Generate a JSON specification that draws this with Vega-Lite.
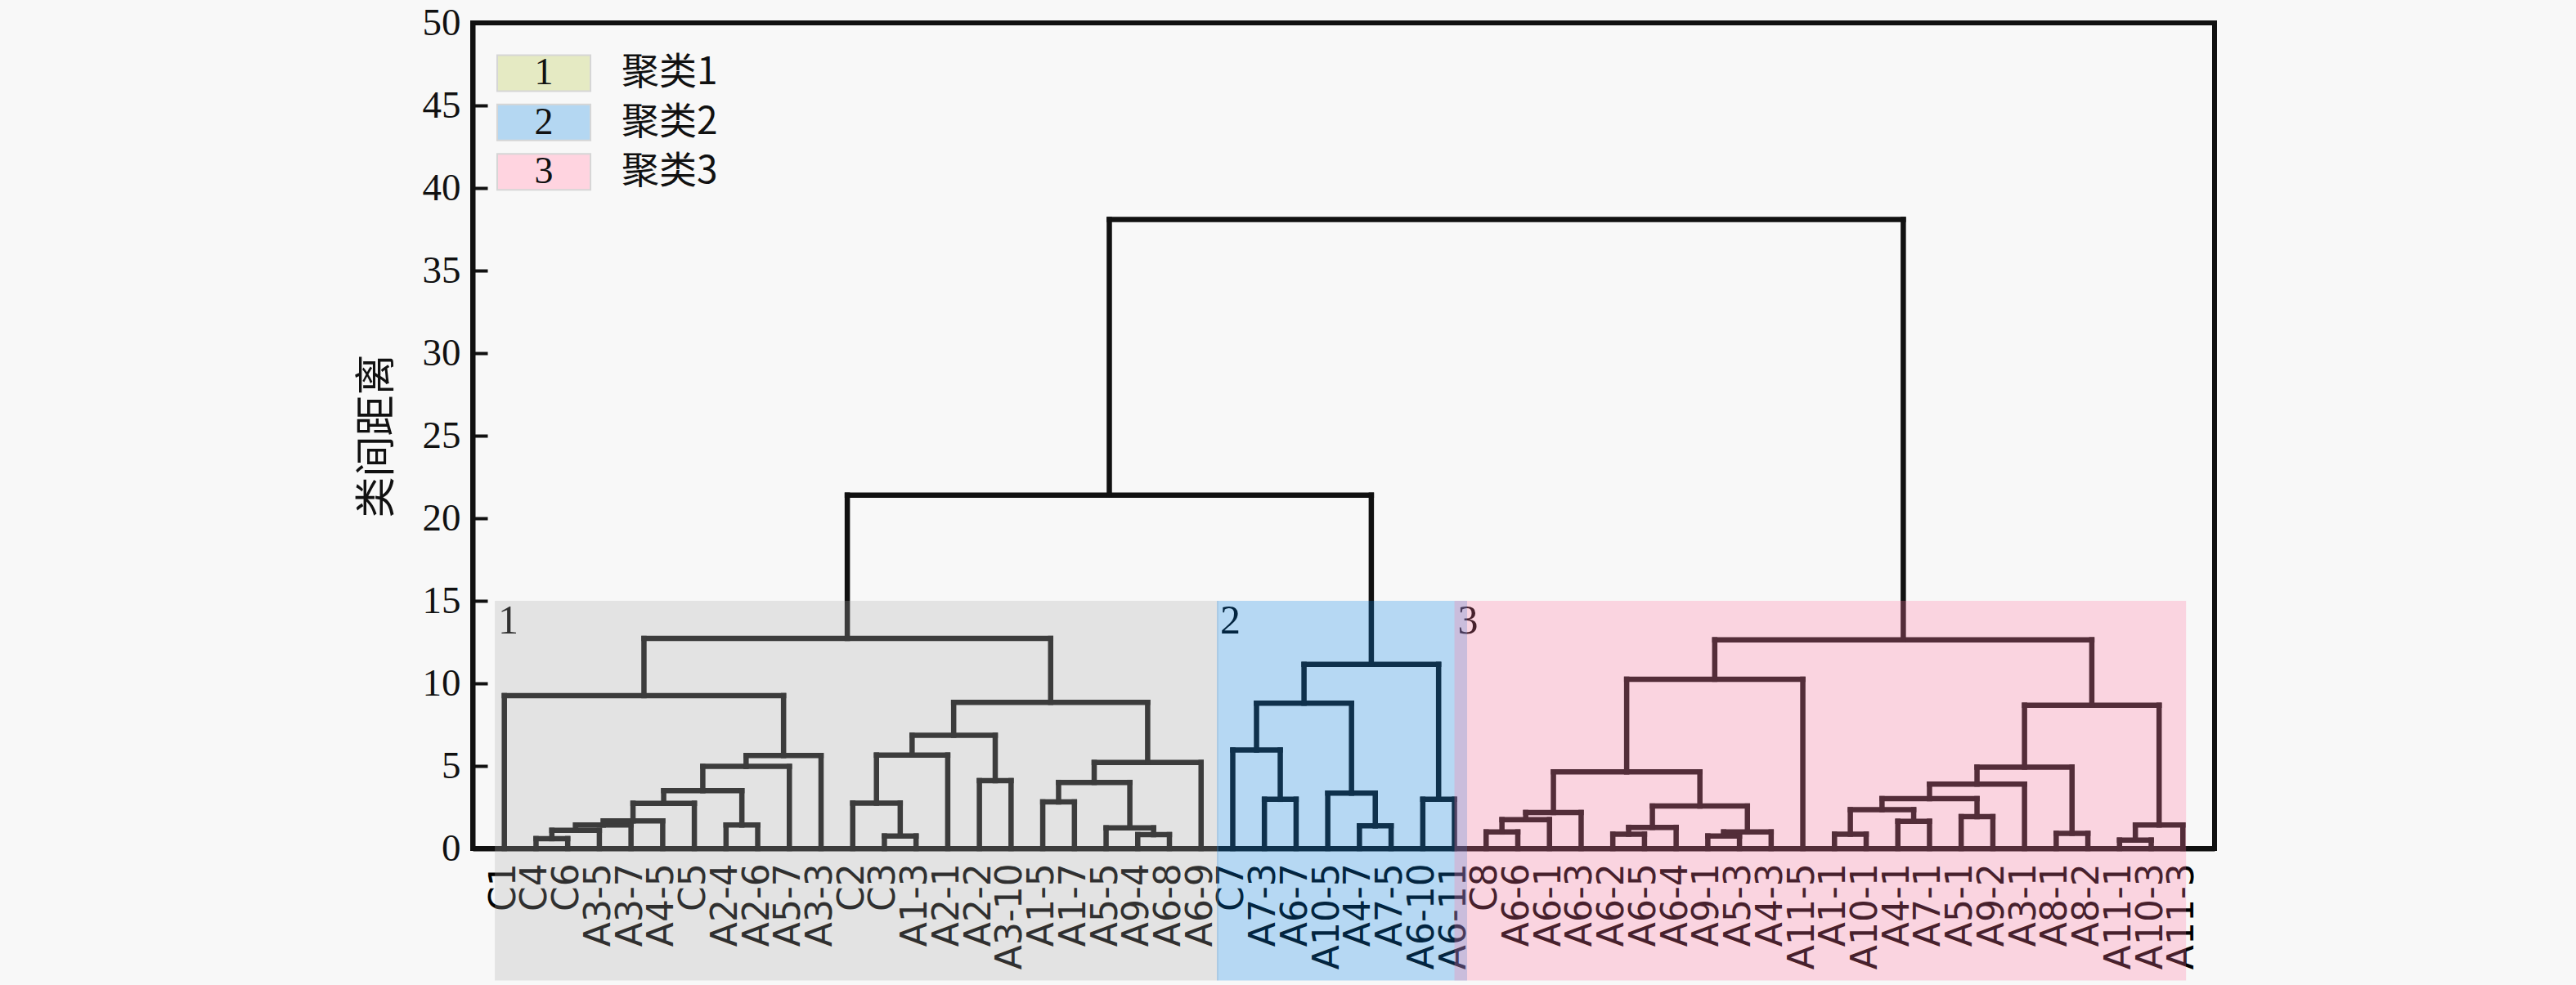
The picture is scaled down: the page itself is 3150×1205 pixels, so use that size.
{
  "$schema": "https://vega.github.io/schema/vega-lite/v6.json",
  "width": 2130,
  "height": 1010,
  "autosize": "none",
  "padding": {"left": 578, "top": 28, "right": 442, "bottom": 167},
  "background": "#f8f8f8",
  "config": {
    "view": {"stroke": "#111111", "strokeWidth": 6},
    "axis": {"grid": false, "domainColor": "#111111", "domainWidth": 6, "tickColor": "#111111", "labelColor": "#111111", "titleColor": "#111111"},
    "axisX": {"labels": false, "ticks": false}
  },
  "datasets": {
    "merges": [
      {"xl": 1, "hl": 0, "xr": 2, "hr": 0, "h": 0.6},
      {"xl": 1.5, "hl": 0.6, "xr": 3, "hr": 0, "h": 1.1},
      {"xl": 2.25, "hl": 1.1, "xr": 4, "hr": 0, "h": 1.42},
      {"xl": 3.125, "hl": 1.42, "xr": 5, "hr": 0, "h": 1.67},
      {"xl": 4.0625, "hl": 1.67, "xr": 6, "hr": 0, "h": 2.74},
      {"xl": 7, "hl": 0, "xr": 8, "hr": 0, "h": 1.42},
      {"xl": 5.0313, "hl": 2.74, "xr": 7.5, "hr": 1.42, "h": 3.5},
      {"xl": 6.2656, "hl": 3.5, "xr": 9, "hr": 0, "h": 4.97},
      {"xl": 7.6328, "hl": 4.97, "xr": 10, "hr": 0, "h": 5.63},
      {"xl": 0, "hl": 0, "xr": 8.8164, "hr": 5.63, "h": 9.26},
      {"xl": 12, "hl": 0, "xr": 13, "hr": 0, "h": 0.76},
      {"xl": 11, "hl": 0, "xr": 12.5, "hr": 0.76, "h": 2.75},
      {"xl": 11.75, "hl": 2.75, "xr": 14, "hr": 0, "h": 5.66},
      {"xl": 15, "hl": 0, "xr": 16, "hr": 0, "h": 4.11},
      {"xl": 12.875, "hl": 5.66, "xr": 15.5, "hr": 4.11, "h": 6.86},
      {"xl": 17, "hl": 0, "xr": 18, "hr": 0, "h": 2.82},
      {"xl": 20, "hl": 0, "xr": 21, "hr": 0, "h": 0.84},
      {"xl": 19, "hl": 0, "xr": 20.5, "hr": 0.84, "h": 1.25},
      {"xl": 17.5, "hl": 2.82, "xr": 19.75, "hr": 1.25, "h": 4.0},
      {"xl": 18.625, "hl": 4.0, "xr": 22, "hr": 0, "h": 5.21},
      {"xl": 14.1875, "hl": 6.86, "xr": 20.3125, "hr": 5.21, "h": 8.85},
      {"xl": 4.4082, "hl": 9.26, "xr": 17.25, "hr": 8.85, "h": 12.72},
      {"xl": 24, "hl": 0, "xr": 25, "hr": 0, "h": 2.98},
      {"xl": 23, "hl": 0, "xr": 24.5, "hr": 2.98, "h": 5.96},
      {"xl": 27, "hl": 0, "xr": 28, "hr": 0, "h": 1.37},
      {"xl": 26, "hl": 0, "xr": 27.5, "hr": 1.37, "h": 3.35},
      {"xl": 23.75, "hl": 5.96, "xr": 26.75, "hr": 3.35, "h": 8.8},
      {"xl": 29, "hl": 0, "xr": 30, "hr": 0, "h": 2.98},
      {"xl": 25.25, "hl": 8.8, "xr": 29.5, "hr": 2.98, "h": 11.15},
      {"xl": 10.8291, "hl": 12.72, "xr": 27.375, "hr": 11.15, "h": 21.4},
      {"xl": 31, "hl": 0, "xr": 32, "hr": 0, "h": 1.0},
      {"xl": 31.5, "hl": 1.0, "xr": 33, "hr": 0, "h": 1.75},
      {"xl": 32.25, "hl": 1.75, "xr": 34, "hr": 0, "h": 2.18},
      {"xl": 35, "hl": 0, "xr": 36, "hr": 0, "h": 0.87},
      {"xl": 35.5, "hl": 0.87, "xr": 37, "hr": 0, "h": 1.28},
      {"xl": 38, "hl": 0, "xr": 39, "hr": 0, "h": 0.76},
      {"xl": 38.5, "hl": 0.76, "xr": 40, "hr": 0, "h": 1.0},
      {"xl": 36.25, "hl": 1.28, "xr": 39.25, "hr": 1.0, "h": 2.57},
      {"xl": 33.125, "hl": 2.18, "xr": 37.75, "hr": 2.57, "h": 4.64},
      {"xl": 35.4375, "hl": 4.64, "xr": 41, "hr": 0, "h": 10.25},
      {"xl": 42, "hl": 0, "xr": 43, "hr": 0, "h": 0.87},
      {"xl": 44, "hl": 0, "xr": 45, "hr": 0, "h": 1.65},
      {"xl": 42.5, "hl": 0.87, "xr": 44.5, "hr": 1.65, "h": 2.35},
      {"xl": 46, "hl": 0, "xr": 47, "hr": 0, "h": 1.93},
      {"xl": 43.5, "hl": 2.35, "xr": 46.5, "hr": 1.93, "h": 3.02},
      {"xl": 45, "hl": 3.02, "xr": 48, "hr": 0, "h": 3.9},
      {"xl": 49, "hl": 0, "xr": 50, "hr": 0, "h": 0.92},
      {"xl": 46.5, "hl": 3.9, "xr": 49.5, "hr": 0.92, "h": 4.93},
      {"xl": 51, "hl": 0, "xr": 52, "hr": 0, "h": 0.51},
      {"xl": 51.5, "hl": 0.51, "xr": 53, "hr": 0, "h": 1.42},
      {"xl": 48, "hl": 4.93, "xr": 52.25, "hr": 1.42, "h": 8.68},
      {"xl": 38.2188, "hl": 10.25, "xr": 50.125, "hr": 8.68, "h": 12.64},
      {"xl": 19.1021, "hl": 21.4, "xr": 44.1719, "hr": 12.64, "h": 38.1}
    ],
    "leaves": [
      {"i": 0, "name": "C1"}, {"i": 1, "name": "C4"}, {"i": 2, "name": "C6"}, {"i": 3, "name": "A3-5"},
      {"i": 4, "name": "A3-7"}, {"i": 5, "name": "A4-5"}, {"i": 6, "name": "C5"}, {"i": 7, "name": "A2-4"},
      {"i": 8, "name": "A2-6"}, {"i": 9, "name": "A5-7"}, {"i": 10, "name": "A3-3"}, {"i": 11, "name": "C2"},
      {"i": 12, "name": "C3"}, {"i": 13, "name": "A1-3"}, {"i": 14, "name": "A2-1"}, {"i": 15, "name": "A2-2"},
      {"i": 16, "name": "A3-10"}, {"i": 17, "name": "A1-5"}, {"i": 18, "name": "A1-7"}, {"i": 19, "name": "A5-5"},
      {"i": 20, "name": "A9-4"}, {"i": 21, "name": "A6-8"}, {"i": 22, "name": "A6-9"}, {"i": 23, "name": "C7"},
      {"i": 24, "name": "A7-3"}, {"i": 25, "name": "A6-7"}, {"i": 26, "name": "A10-5"}, {"i": 27, "name": "A4-7"},
      {"i": 28, "name": "A7-5"}, {"i": 29, "name": "A6-10"}, {"i": 30, "name": "A6-11"}, {"i": 31, "name": "C8"},
      {"i": 32, "name": "A6-6"}, {"i": 33, "name": "A6-1"}, {"i": 34, "name": "A6-3"}, {"i": 35, "name": "A6-2"},
      {"i": 36, "name": "A6-5"}, {"i": 37, "name": "A6-4"}, {"i": 38, "name": "A9-1"}, {"i": 39, "name": "A5-3"},
      {"i": 40, "name": "A4-3"}, {"i": 41, "name": "A11-5"}, {"i": 42, "name": "A1-1"}, {"i": 43, "name": "A10-1"},
      {"i": 44, "name": "A4-1"}, {"i": 45, "name": "A7-1"}, {"i": 46, "name": "A5-1"}, {"i": 47, "name": "A9-2"},
      {"i": 48, "name": "A3-1"}, {"i": 49, "name": "A8-1"}, {"i": 50, "name": "A8-2"}, {"i": 51, "name": "A11-1"},
      {"i": 52, "name": "A10-3"}, {"i": 53, "name": "A11-3"}
    ],
    "regions": [
      {"c": "1", "x0": -0.3, "x1": 22.55},
      {"c": "2", "x0": 22.5, "x1": 30.4},
      {"c": "3", "x0": 30.0, "x1": 53.1}
    ],
    "legend": [
      {"k": 1, "label": "聚类1"},
      {"k": 2, "label": "聚类2"},
      {"k": 3, "label": "聚类3"}
    ]
  },
  "layer": [
    {
      "layer": [
        {
          "data": {"name": "merges"},
          "mark": {"type": "rule", "strokeWidth": 6.5, "strokeCap": "square", "color": "#111111"},
          "encoding": {
            "x": {"field": "xl", "type": "quantitative", "scale": {"domain": [-1, 54], "nice": false, "zero": false}, "title": null},
            "x2": {"field": "xr"},
            "y": {"field": "h", "type": "quantitative", "scale": {"domain": [0, 50], "nice": false, "zero": false},
              "title": "类间距离",
              "axis": {"values": [0, 5, 10, 15, 20, 25, 30, 35, 40, 45, 50], "tickSize": -18, "tickWidth": 4, "labelFont": "Liberation Serif", "labelFontSize": 47, "labelPadding": 33, "labelFlush": false, "titleFont": "Noto Sans CJK SC", "titleFontSize": 50, "titleFontWeight": "normal", "titlePadding": 30}}
          }
        },
        {
          "data": {"name": "merges"},
          "mark": {"type": "rule", "strokeWidth": 6.5, "strokeCap": "square", "color": "#111111"},
          "encoding": {
            "x": {"field": "xl", "type": "quantitative", "scale": {"domain": [-1, 54], "nice": false, "zero": false}, "title": null},
            "y": {"field": "hl", "type": "quantitative", "scale": {"domain": [0, 50], "nice": false, "zero": false}, "title": "类间距离"},
            "y2": {"field": "h"}
          }
        },
        {
          "data": {"name": "merges"},
          "mark": {"type": "rule", "strokeWidth": 6.5, "strokeCap": "square", "color": "#111111"},
          "encoding": {
            "x": {"field": "xr", "type": "quantitative", "scale": {"domain": [-1, 54], "nice": false, "zero": false}, "title": null},
            "y": {"field": "hr", "type": "quantitative", "scale": {"domain": [0, 50], "nice": false, "zero": false}, "title": "类间距离"},
            "y2": {"field": "h"}
          }
        },
        {
          "data": {"name": "leaves"},
          "mark": {"type": "text", "angle": 270, "align": "right", "baseline": "middle", "font": "DejaVu Sans", "fontSize": 44, "color": "#000000"},
          "encoding": {
            "x": {"field": "i", "type": "quantitative", "scale": {"domain": [-1, 54], "nice": false, "zero": false}, "title": null},
            "y": {"datum": -0.9, "type": "quantitative", "scale": {"domain": [0, 50], "nice": false, "zero": false}},
            "text": {"field": "name"}
          }
        },
        {
          "data": {"name": "regions"},
          "mark": {"type": "text", "align": "left", "baseline": "top", "dx": 4, "dy": 0, "font": "Liberation Serif", "fontSize": 50, "color": "#000000"},
          "encoding": {
            "x": {"field": "x0", "type": "quantitative", "scale": {"domain": [-1, 54], "nice": false, "zero": false}, "title": null},
            "y": {"datum": 15, "type": "quantitative", "scale": {"domain": [0, 50], "nice": false, "zero": false}},
            "text": {"field": "c"}
          }
        },
        {
          "data": {"name": "regions"},
          "mark": {"type": "rect", "opacity": 0.28},
          "encoding": {
            "x": {"field": "x0", "type": "quantitative", "scale": {"domain": [-1, 54], "nice": false, "zero": false}, "title": null},
            "x2": {"field": "x1"},
            "y": {"datum": 15, "type": "quantitative", "scale": {"domain": [0, 50], "nice": false, "zero": false}},
            "y2": {"datum": -8},
            "color": {"field": "c", "type": "nominal", "scale": {"domain": ["1", "2", "3"], "range": ["#aeaeae", "#0a86e6", "#ff78a2"]}, "legend": null}
          }
        }
      ]
    },
    {
      "data": {"name": "legend"},
      "layer": [
        {
          "mark": {"type": "bar", "orient": "horizontal", "size": 44, "stroke": "#d6d6d6", "strokeWidth": 2},
          "encoding": {
            "x": {"datum": -0.225, "type": "quantitative"},
            "x2": {"datum": 2.72},
            "y": {"field": "k", "type": "quantitative", "scale": {"domain": [0.066, 16.623], "reverse": true, "nice": false, "zero": false}, "axis": null},
            "color": {"field": "k", "type": "nominal", "scale": {"domain": [1, 2, 3], "range": ["#e5eac3", "#b4d7f2", "#ffd4e0"]}, "legend": null}
          }
        },
        {
          "mark": {"type": "text", "align": "center", "baseline": "middle", "font": "Liberation Serif", "fontSize": 46, "color": "#111111"},
          "encoding": {
            "x": {"datum": 1.246, "type": "quantitative"},
            "y": {"field": "k", "type": "quantitative", "scale": {"domain": [0.066, 16.623], "reverse": true, "nice": false, "zero": false}, "axis": null},
            "text": {"field": "k"}
          }
        },
        {
          "mark": {"type": "text", "align": "left", "baseline": "middle", "font": "Noto Sans CJK SC", "fontSize": 46, "color": "#111111"},
          "encoding": {
            "x": {"datum": 3.7, "type": "quantitative"},
            "y": {"field": "k", "type": "quantitative", "scale": {"domain": [0.066, 16.623], "reverse": true, "nice": false, "zero": false}, "axis": null},
            "text": {"field": "label"}
          }
        }
      ]
    }
  ],
  "resolve": {"scale": {"y": "independent", "color": "independent"}}
}
